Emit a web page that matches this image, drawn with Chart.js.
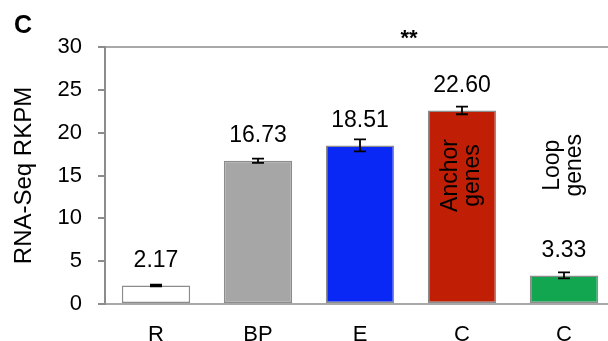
<!DOCTYPE html>
<html>
<head>
<meta charset="utf-8">
<script src="https://cdn.jsdelivr.net/npm/chart.js@4/dist/chart.umd.min.js"></script>
<style>
  body { margin: 0; overflow: hidden; background: #fff; }
  #wrap { position: absolute; left: 0; top: 0; width: 620px; height: 341px; }
</style>
</head>
<body>
<div id="wrap"><canvas id="myChart" width="620" height="341"></canvas></div>
<script>
// RNA-Seq expression per group
const groups = ['R', 'BP', 'E', 'C', 'C'];
const rkpm = [2.17, 16.73, 18.51, 22.60, 3.33];
const rkpmErr = [0.1, 0.25, 0.7, 0.45, 0.35];
const barColors = ['#ffffff', '#a6a6a6', '#0a28f5', '#c01f06', '#12a650'];
const barNotes = [null, null, null, ['Anchor', 'genes'], ['Loop', 'genes']];
const yTicks = [0, 5, 10, 15, 20, 25, 30];

const FONT = "'Liberation Sans', Arial, sans-serif";

// error bars, value labels and the rotated notes
const extras = {
    id: 'extras',
    afterDatasetsDraw(chart) {
        const ctx = chart.ctx;
        const y = chart.scales.y;
        const meta = chart.getDatasetMeta(0);
        ctx.save();
        meta.data.forEach((bar, i) => {
            const v = rkpm[i];
            const e = rkpmErr[i];
            const top = y.getPixelForValue(v + e);
            const bot = y.getPixelForValue(v - e);
            ctx.strokeStyle = '#000';
            ctx.lineWidth = 1.8;
            ctx.beginPath();
            ctx.moveTo(bar.x, top); ctx.lineTo(bar.x, bot);
            ctx.moveTo(bar.x - 6, top); ctx.lineTo(bar.x + 6, top);
            ctx.moveTo(bar.x - 6, bot); ctx.lineTo(bar.x + 6, bot);
            ctx.stroke();

            ctx.fillStyle = '#000';
            ctx.font = '23px ' + FONT;
            ctx.textAlign = 'center';
            ctx.textBaseline = 'middle';
            ctx.fillText(v.toFixed(2), bar.x, y.getPixelForValue(v) - 25);

            const note = barNotes[i];
            if (note) {
                const cy = y.getPixelForValue(i === 3 ? 15 : 16.2);
                ctx.save();
                ctx.translate(bar.x, cy);
                ctx.rotate(-Math.PI / 2);
                ctx.font = '23px ' + FONT;
                ctx.fillText(note[0], 0, -11);
                ctx.fillText(note[1], 0, 11);
                ctx.restore();
            }
        });

        // panel letter and significance stars
        ctx.fillStyle = '#000';
        ctx.textAlign = 'left';
        ctx.textBaseline = 'alphabetic';
        ctx.font = 'bold 25px ' + FONT;
        ctx.fillText('C', 14, 33);
        ctx.textAlign = 'center';
        ctx.font = 'bold 22px ' + FONT;
        ctx.fillText('**', 409, 45);
        ctx.restore();
    }
};

const ctx = document.getElementById('myChart');

new Chart(ctx, {
    type: 'bar',
    data: {
        labels: groups,
        datasets: [{
            data: rkpm,
            backgroundColor: barColors,
            borderColor: '#8c8c8c',
            borderWidth: 1.5,
            borderSkipped: false,
            barPercentage: 0.67,
            categoryPercentage: 1
        }]
    },
    options: {
        responsive: false,
        animation: false,
        layout: { padding: { top: 47, right: 5, left: 0, bottom: 0 } },
        plugins: { legend: { display: false }, tooltip: { enabled: false } },
        scales: {
            x: {
                grid: { display: false },
                border: { display: false },
                ticks: { color: '#000', font: { family: FONT, size: 22 }, padding: 10 },
                afterFit: (scale) => { scale.height = 37; }
            },
            y: {
                min: 0,
                max: 30,
                afterBuildTicks: (scale) => { scale.ticks = yTicks.map(v => ({ value: v })); },
                ticks: { color: '#000', font: { family: FONT, size: 22 }, padding: 16 },
                grid: {
                    color: (c) => (c.tick && (c.tick.value === 30 || c.tick.value === 0)) ? '#a8a8a8' : 'transparent',
                    tickColor: '#8c8c8c',
                    tickLength: 7,
                    lineWidth: 2
                },
                border: { color: '#8c8c8c', width: 2 },
                title: {
                    display: true,
                    text: 'RNA-Seq RKPM',
                    color: '#000',
                    font: { family: FONT, size: 24 },
                    padding: { top: 10, bottom: 0 }
                },
                afterFit: (scale) => { scale.width = 105; }
            }
        }
    },
    plugins: [extras]
});
</script>
</body>
</html>
